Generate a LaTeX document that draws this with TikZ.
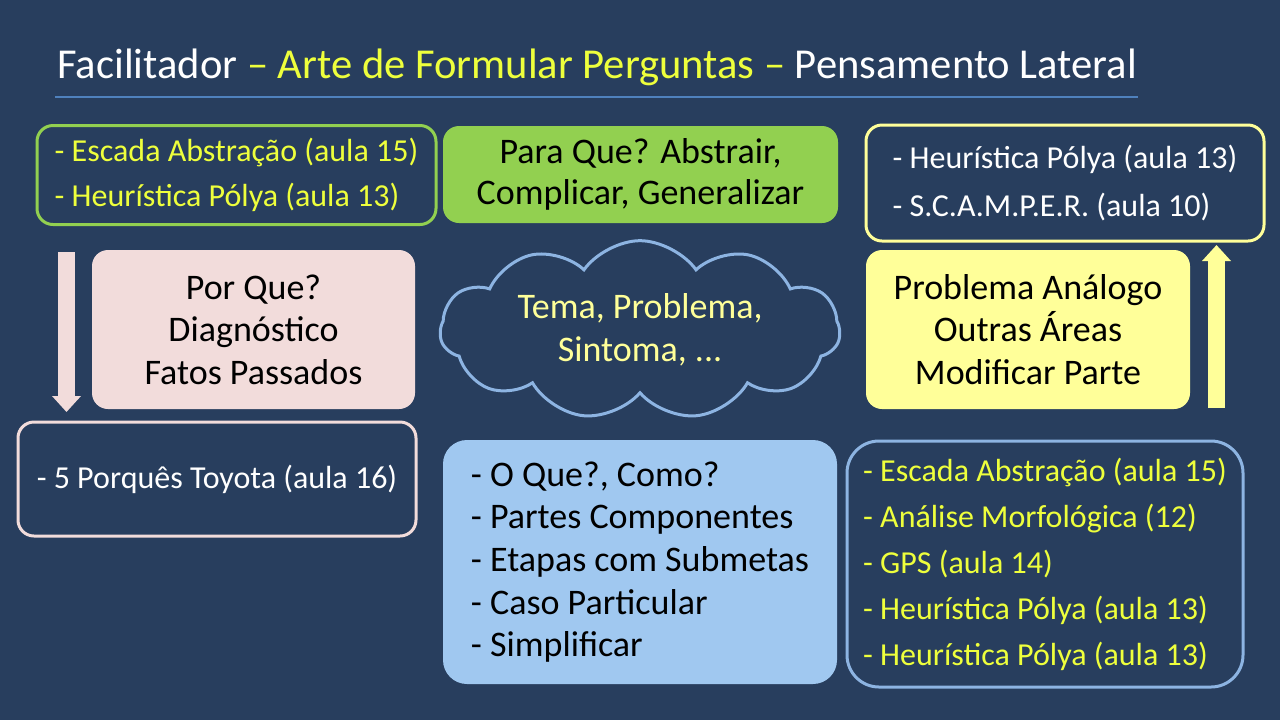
\documentclass[tikz,border=0pt]{standalone}
\usepackage{fontspec}
\setmainfont{Carlito}
\usetikzlibrary{arrows.meta,shapes.symbols,positioning}
\definecolor{slidebg}{RGB}{40,62,94}
\definecolor{leafgreen}{RGB}{146,208,80}
\definecolor{hiyellow}{RGB}{238,255,60}
\definecolor{paleyellow}{RGB}{255,255,153}
\definecolor{palepink}{RGB}{242,220,219}
\definecolor{paleblue}{RGB}{160,200,240}
\definecolor{cloudblue}{RGB}{141,180,226}
\definecolor{rulerblue}{RGB}{79,129,189}

\tikzset{
  every node/.style={font=\fontsize{16}{21.5}\selectfont, inner sep=0pt},
  box/.style={rounded corners=8pt, line width=1.5pt, align=center},
  listbox/.style={box, fill=slidebg, align=left},
  blockarrow/.style={line width=8.5pt, -{Triangle[length=8pt,width=14pt]}},
}

\begin{document}
\begin{tikzpicture}[x=0.5pt,y=-0.5pt]
% slide background
\fill[slidebg] (0,0) rectangle (1280,720);

% title and rule
\node[anchor=base west, font=\fontsize{21.3}{24}\selectfont, text=white] (title) at (57,78)
  {Facilitador \textcolor{hiyellow}{– Arte de Formular Perguntas –} Pensamento Lateral};
\draw[rulerblue, line width=1.2pt] (55,97) -- (1138,97);

% top row
\node[listbox, draw=leafgreen, text=hiyellow, minimum width=199.5pt, minimum height=49.5pt,
  font=\fontsize{16}{22.5}\selectfont] (abstr) at (236.5,175)
  {- Escada Abstração (aula 15)\\- Heurística Pólya (aula 13)};
\node[box, fill=leafgreen, text=black, minimum width=197.5pt, minimum height=48.5pt,
  font=\fontsize{18}{20.5}\selectfont] (paraque) at (640.5,174.5)
  {Para Que? Abstrair,\\Complicar, Generalizar};
\node[listbox, draw=paleyellow, text=white, minimum width=199pt, minimum height=58pt,
  font=\fontsize{16}{24}\selectfont] (heur) at (1065,183)
  {- Heurística Pólya (aula 13)\\- S.C.A.M.P.E.R. (aula 10)};

% middle row
\node[box, fill=palepink, text=black, minimum width=161.5pt, minimum height=79.5pt,
  font=\fontsize{18}{21.3}\selectfont] (porque) at (253.5,329.5)
  {Por Que?\\Diagnóstico\\Fatos Passados};
\node[cloud, cloud puffs=11, cloud puff arc=110, aspect=2.6, draw=cloudblue, line width=1.5pt,
  fill=slidebg, text=paleyellow, align=center, minimum width=200pt, minimum height=72pt,
  font=\fontsize{18}{21.5}\selectfont] (tema) at (640,330)
  {Tema, Problema,\\Sintoma, ...};
\node[box, fill=paleyellow, text=black, minimum width=162pt, minimum height=79.5pt,
  font=\fontsize{18}{21.3}\selectfont] (analogo) at (1028,329.5)
  {Problema Análogo\\Outras Áreas\\Modificar Parte};

% arrows
\coordinate (downtop) at (66.5,252);
\coordinate (downend) at (66.5,412);
\coordinate (upbot) at (1216.5,408);
\coordinate (uptop) at (1216.5,245);
\draw[blockarrow, palepink] (downtop) -- (downend);
\draw[blockarrow, paleyellow] (upbot) -- (uptop);

% bottom row
\node[listbox, draw=palepink, text=white, minimum width=199pt, minimum height=57pt] (toyota) at (217,479)
  {- 5 Porquês Toyota (aula 16)};
\node[box, rounded corners=12pt, fill=paleblue, text=black, align=left, minimum width=197pt,
  minimum height=122pt, font=\fontsize{18}{21.3}\selectfont] (oque) at (640,562)
  {- O Que?, Como?\\- Partes Componentes\\- Etapas com Submetas\\- Caso Particular\\- Simplificar};
\node[listbox, rounded corners=16pt, draw=cloudblue, text=hiyellow, minimum width=198pt,
  minimum height=123pt, font=\fontsize{16}{23}\selectfont] (ferram) at (1045,564)
  {- Escada Abstração (aula 15)\\- Análise Morfológica (12)\\- GPS (aula 14)\\- Heurística Pólya (aula 13)\\- Heurística Pólya (aula 13)};
\end{tikzpicture}
\end{document}
